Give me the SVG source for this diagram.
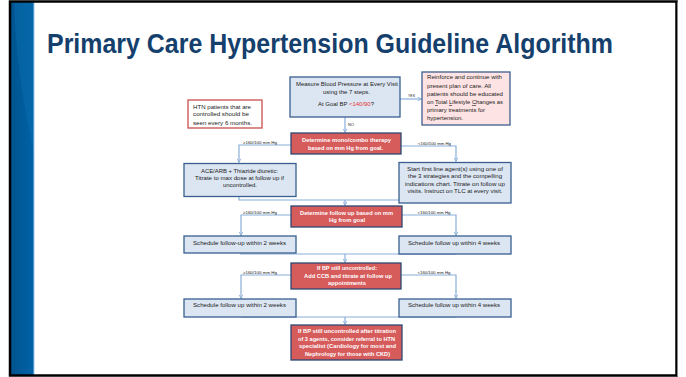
<svg xmlns="http://www.w3.org/2000/svg" width="686" height="377" viewBox="0 0 686 377">
<defs>
<linearGradient id="ul" x1="0" y1="0" x2="1" y2="0">
<stop offset="0" stop-color="#6fb3de"/>
<stop offset="0.6" stop-color="#a9d2ee"/>
<stop offset="1" stop-color="#ffffff"/>
</linearGradient>
<linearGradient id="bar" x1="0" y1="0" x2="1" y2="0">
<stop offset="0" stop-color="#005490"/>
<stop offset="1" stop-color="#0063a6"/>
</linearGradient>
<marker id="ah" viewBox="0 0 8 8" refX="7" refY="4" markerWidth="5" markerHeight="5" orient="auto" markerUnits="userSpaceOnUse">
<path d="M1,1 L7,4 L1,7" fill="none" stroke="#8aaed8" stroke-width="1.3"/>
</marker>
<style>
.t{font-family:"Liberation Sans",Arial,sans-serif;font-size:6px;fill:#1b1b1b}
.w{font-family:"Liberation Sans",Arial,sans-serif;font-size:6.2px;font-weight:bold;fill:#ffffff}
.s{font-family:"Liberation Sans",Arial,sans-serif;font-size:3.8px;fill:#1b1b1b}
.c{text-anchor:middle}
.blue{fill:#dce6f2;stroke:#3a5f8f;stroke-width:1.3}
.red{fill:#d65b5b;stroke:#2c4a75;stroke-width:1.3}
.con{fill:none;stroke:#8aaed8;stroke-width:1.2}
.arr{marker-end:url(#ah)}
</style>
</defs>
<rect x="0" y="0" width="686" height="377" fill="#ffffff"/>
<g id="frame">
<rect x="11" y="2" width="23" height="373" fill="url(#bar)"/>
<path d="M14,2 C16,60 24,110 34,150 L34,2 Z" fill="#0a6fb0" opacity="0.45"/>
<line x1="34" y1="2" x2="34" y2="375" stroke="#9ccbee" stroke-width="1"/>
<rect x="10" y="1.5" width="666.5" height="374" fill="none" stroke="#000000" stroke-width="2.5"/>
<line x1="677.5" y1="2" x2="677.5" y2="376" stroke="#888888" stroke-width="1"/>
</g>
<g id="title">
<text x="47" y="53" font-family="'Liberation Sans',Arial,sans-serif" font-size="28" font-weight="bold" fill="#153f6c" textLength="566" lengthAdjust="spacingAndGlyphs">Primary Care Hypertension Guideline Algorithm</text>
<line x1="41" y1="65" x2="632" y2="65" stroke="url(#ul)" stroke-width="1.6"/>
</g>
<g id="connectors">
<path class="con arr" d="M345,117 V132.5"/>
<path class="con arr" d="M400,99 H421.5"/>
<path class="con arr" d="M291,145 H239 V162.5"/>
<path class="con arr" d="M401,146 H456 V161.5"/>
<path class="con" d="M239,197 V200 H456 V203"/>
<path class="con arr" d="M345,200 V205.5"/>
<path class="con arr" d="M291,215 H241 V235.5"/>
<path class="con arr" d="M402,215 H456 V235.5"/>
<path class="con" d="M241,253 V254 H456 V254"/>
<path class="con arr" d="M345,254 V262.5"/>
<path class="con arr" d="M291,275 H241 V298.5"/>
<path class="con arr" d="M401,275 H456 V298.5"/>
<path class="con" d="M241,317 H456"/>
<path class="con arr" d="M345,317 V324.5"/>
<text class="s" x="408" y="97" textLength="7" lengthAdjust="spacingAndGlyphs">YES</text>
<text class="s" x="348" y="125.5" textLength="6" lengthAdjust="spacingAndGlyphs">NO</text>
<text class="s c" x="260" y="143.5" textLength="34" lengthAdjust="spacingAndGlyphs">≥160/100 mm Hg</text>
<text class="s c" x="434.5" y="145" textLength="33" lengthAdjust="spacingAndGlyphs">&lt;160/100 mm Hg</text>
<text class="s c" x="260" y="213.5" textLength="34" lengthAdjust="spacingAndGlyphs">≥160/100 mm Hg</text>
<text class="s c" x="434" y="214" textLength="33" lengthAdjust="spacingAndGlyphs">&lt;160/100 mm Hg</text>
<text class="s c" x="260" y="273.5" textLength="34" lengthAdjust="spacingAndGlyphs">≥160/100 mm Hg</text>
<text class="s c" x="434" y="274" textLength="33" lengthAdjust="spacingAndGlyphs">&lt;160/100 mm Hg</text>
</g>
<g id="measure">
<rect class="blue" x="290" y="77" width="110" height="40"/>
<text class="t c" x="347" y="86" textLength="102" lengthAdjust="spacingAndGlyphs">Measure Blood Pressure at Every Visit</text>
<text class="t c" x="346.5" y="94" textLength="47" lengthAdjust="spacingAndGlyphs">using the 7 steps.</text>
<text class="t c" x="346" y="106" textLength="56" lengthAdjust="spacingAndGlyphs">At Goal BP <tspan fill="#e53333">&lt;140/90</tspan>?</text>
</g>
<g id="reinforce">
<rect x="422" y="72" width="88" height="53" fill="#fde3e3" stroke="#3f5f8f" stroke-width="1.3"/>
<text class="t" x="427" y="79.3" textLength="75" lengthAdjust="spacingAndGlyphs">Reinforce and continue with</text>
<text class="t" x="427" y="87.7" textLength="64" lengthAdjust="spacingAndGlyphs">present plan of care. All</text>
<text class="t" x="427" y="96" textLength="76" lengthAdjust="spacingAndGlyphs">patients should be educated</text>
<text class="t" x="427" y="104.3" textLength="76" lengthAdjust="spacingAndGlyphs">on <tspan text-decoration="underline">T</tspan>otal <tspan text-decoration="underline">L</tspan>ifestyle <tspan text-decoration="underline">C</tspan>hanges as</text>
<text class="t" x="427" y="112" textLength="58" lengthAdjust="spacingAndGlyphs">primary treatments for</text>
<text class="t" x="427" y="120" textLength="36" lengthAdjust="spacingAndGlyphs">hypertension.</text>
</g>
<g id="htn">
<rect x="188" y="100" width="74" height="28" fill="#ffffff" stroke="#c9504d" stroke-width="1.3"/>
<text class="t" x="193" y="108.7" textLength="58" lengthAdjust="spacingAndGlyphs">HTN patients that are</text>
<text class="t" x="193" y="116.3" textLength="56" lengthAdjust="spacingAndGlyphs">controlled should be</text>
<text class="t" x="193" y="124.7" textLength="59" lengthAdjust="spacingAndGlyphs">seen every 6 months.</text>
</g>
<g id="mono">
<rect class="red" x="291" y="133" width="110" height="21"/>
<text class="w c" x="346.5" y="142" textLength="89" lengthAdjust="spacingAndGlyphs">Determine mono/combo therapy</text>
<text class="w c" x="345.5" y="150" textLength="75" lengthAdjust="spacingAndGlyphs">based on mm Hg from goal.</text>
</g>
<g id="acearb">
<rect class="blue" x="184" y="163.5" width="112" height="33"/>
<text class="t c" x="239.5" y="173" textLength="77" lengthAdjust="spacingAndGlyphs">ACE/ARB + Thiazide diuretic:</text>
<text class="t c" x="239.5" y="179.8" textLength="89" lengthAdjust="spacingAndGlyphs">Titrate to max dose at follow up if</text>
<text class="t c" x="240" y="187" textLength="34" lengthAdjust="spacingAndGlyphs">uncontrolled.</text>
</g>
<g id="firstline">
<rect class="blue" x="399" y="162.5" width="112" height="40.5"/>
<text class="t c" x="455" y="171" textLength="96" lengthAdjust="spacingAndGlyphs">Start first line agent(s) using one of</text>
<text class="t c" x="455" y="178.3" textLength="94" lengthAdjust="spacingAndGlyphs">the 3 strategies and the compelling</text>
<text class="t c" x="455" y="185.5" textLength="100" lengthAdjust="spacingAndGlyphs">indications chart. Titrate on follow up</text>
<text class="t c" x="455" y="193" textLength="95" lengthAdjust="spacingAndGlyphs">visits. Instruct on TLC at every visit.</text>
</g>
<g id="followup">
<rect class="red" x="291" y="206" width="111" height="21"/>
<text class="w c" x="346.5" y="214.5" textLength="93" lengthAdjust="spacingAndGlyphs">Determine follow up based on mm</text>
<text class="w c" x="347" y="221.5" textLength="36" lengthAdjust="spacingAndGlyphs">Hg from goal</text>
</g>
<g id="sched2a">
<rect class="blue" x="184" y="236" width="112" height="17"/>
<text class="t c" x="239.5" y="244.5" textLength="93" lengthAdjust="spacingAndGlyphs">Schedule follow-up within 2 weeks</text>
</g>
<g id="sched4a">
<rect class="blue" x="399" y="236" width="112" height="18"/>
<text class="t c" x="454" y="245" textLength="92" lengthAdjust="spacingAndGlyphs">Schedule follow up within 4 weeks</text>
</g>
<g id="ccb">
<rect class="red" x="291" y="263" width="110" height="26"/>
<text class="w c" x="347" y="270" textLength="60" lengthAdjust="spacingAndGlyphs">If BP still uncontrolled:</text>
<text class="w c" x="348" y="278" textLength="88" lengthAdjust="spacingAndGlyphs">Add CCB and titrate at follow up</text>
<text class="w c" x="347" y="285" textLength="38" lengthAdjust="spacingAndGlyphs">appointments</text>
</g>
<g id="sched2b">
<rect class="blue" x="184" y="299" width="112" height="18"/>
<text class="t c" x="239.5" y="306.5" textLength="93" lengthAdjust="spacingAndGlyphs">Schedule follow up within 2 weeks</text>
</g>
<g id="sched4b">
<rect class="blue" x="399" y="299" width="112" height="18"/>
<text class="t c" x="454" y="306.5" textLength="92" lengthAdjust="spacingAndGlyphs">Schedule follow up within 4 weeks</text>
</g>
<g id="referral">
<rect class="red" x="291" y="325" width="111" height="35"/>
<text class="w c" x="347" y="333" textLength="98" lengthAdjust="spacingAndGlyphs">If BP still uncontrolled after titration</text>
<text class="w c" x="346.5" y="340.5" textLength="97" lengthAdjust="spacingAndGlyphs">of 3 agents, consider referral to HTN</text>
<text class="w c" x="347.5" y="348" textLength="97" lengthAdjust="spacingAndGlyphs">specialist (Cardiology for most and</text>
<text class="w c" x="347.5" y="355.5" textLength="85" lengthAdjust="spacingAndGlyphs">Nephrology for those with CKD)</text>
</g>
</svg>
